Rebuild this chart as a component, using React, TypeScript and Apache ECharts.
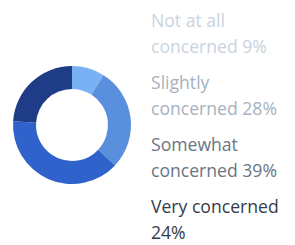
import React, { useEffect, useRef } from "react";
import * as echarts from "echarts";

const categories = ["Not at all concerned", "Slightly concerned", "Somewhat concerned", "Very concerned"];
const values = [9, 28, 39, 24];
const labelLines = [
  ["Not at all", "concerned 9%"],
  ["Slightly", "concerned 28%"],
  ["Somewhat", "concerned 39%"],
  ["Very concerned", "24%"],
];
const sliceColors = ["#7ab0f4", "#5a8fde", "#2f62cb", "#1e3d86"];
const textColors = ["#c8d4e0", "#a6b2c0", "#6a7584", "#323c4a"];

export default function App() {
  const ref = useRef<HTMLDivElement>(null);
  useEffect(() => {
    const chart = echarts.init(ref.current!, null, { renderer: "svg" });
    chart.setOption({
      animation: false,
      legend: {
        orient: "vertical",
        left: 146,
        top: 7,
        height: 400,
        padding: 0,
        icon: "rect",
        itemWidth: 0,
        itemHeight: 0,
        itemGap: 10,
        selectedMode: false,
        data: categories.map((c, i) => ({ name: c, textStyle: { color: textColors[i] } })),
        formatter: (name: string) => labelLines[categories.indexOf(name)].join("\n"),
        textStyle: { fontFamily: "Open Sans", fontSize: 17.6, lineHeight: 26 },
      },
      series: [
        {
          type: "pie",
          center: [72, 125],
          radius: [36, 59],
          startAngle: 90,
          clockwise: true,
          label: { show: false },
          labelLine: { show: false },
          emphasis: { disabled: true },
          data: categories.map((c, i) => ({ name: c, value: values[i], itemStyle: { color: sliceColors[i] } })),
        },
      ],
    });
    return () => chart.dispose();
  }, []);
  return <div ref={ref} style={{ width: 295, height: 245, position: "absolute", left: 0, top: 0 }} />;
}
